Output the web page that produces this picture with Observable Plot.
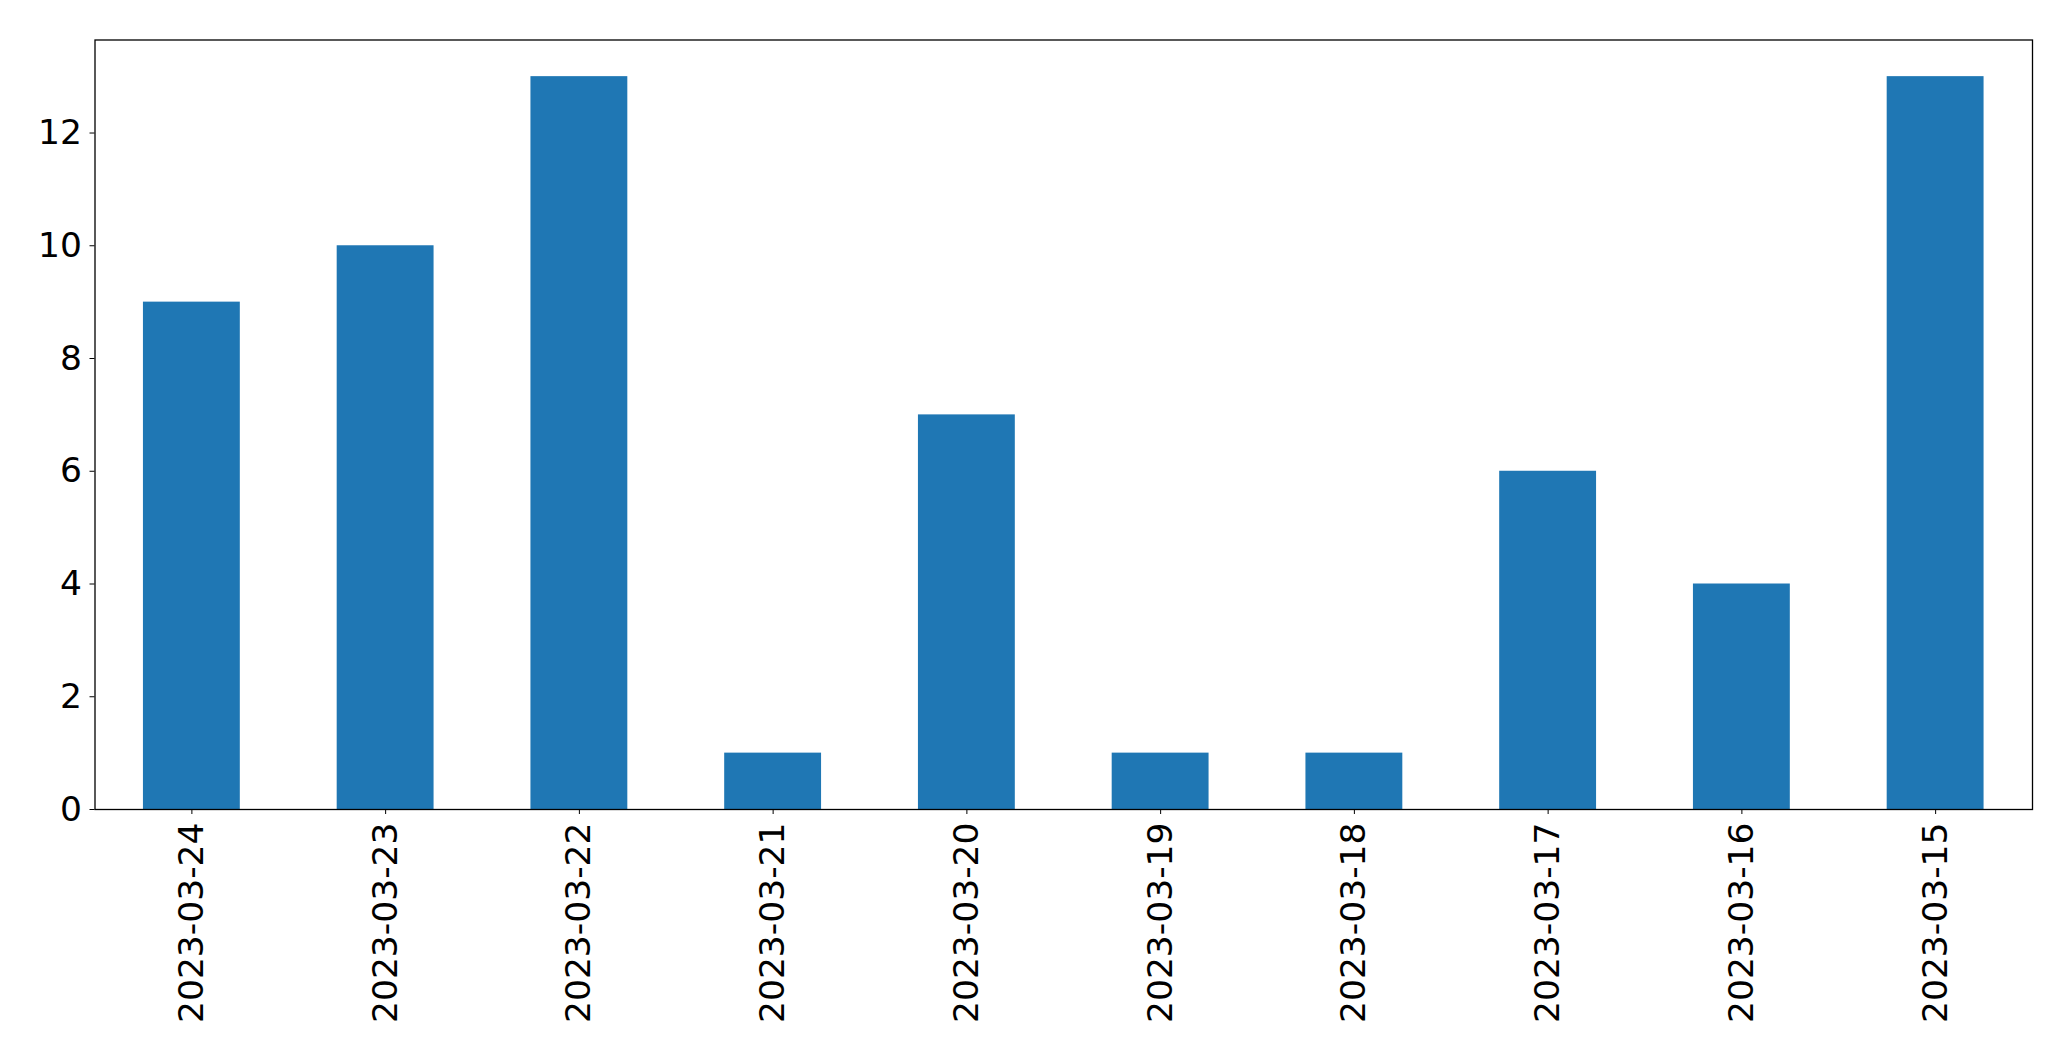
<!DOCTYPE html>
<html>
<head>
<meta charset="utf-8">
<script src="https://cdn.jsdelivr.net/npm/d3@7"></script>
<script src="https://cdn.jsdelivr.net/npm/@observablehq/plot@0.6"></script>
<style>
  html, body { margin: 0; padding: 0; background: #fff; }
  #chart svg { display: block; }
</style>
</head>
<body>
<div id="chart"></div>
<script>
const dates = ["2023-03-24","2023-03-23","2023-03-22","2023-03-21","2023-03-20","2023-03-19","2023-03-18","2023-03-17","2023-03-16","2023-03-15"];
const counts = [9, 10, 13, 1, 7, 1, 1, 6, 4, 13];
const yTicks = [0, 2, 4, 6, 8, 10, 12];

const data = dates.map((d, i) => ({date: d, count: counts[i]}));
const yMax = d3.max(counts) * 1.05;

const chart = Plot.plot({
  width: 2071,
  height: 1061,
  marginLeft: 94.5,
  marginRight: 39,
  marginTop: 39.5,
  marginBottom: 252,
  style: {fontFamily: "DejaVu Sans", fontSize: "34.5px", color: "#000", background: "#fff"},
  x: {type: "band", domain: dates, paddingInner: 0.5, paddingOuter: 0.25, align: 0.5, round: false, label: null},
  y: {domain: [0, yMax], label: null},
  marks: [
    Plot.barY(data, {x: "date", y: "count", fill: "#1f77b4", inset: 0}),
    Plot.axisY({ticks: yTicks, tickSize: 5, tickPadding: 8, tickFormat: d => String(d), label: null}),
    Plot.axisX({tickSize: 5, tickPadding: 8, tickRotate: -90, label: null}),
    Plot.frame({stroke: "#000", strokeWidth: 1.3})
  ]
});
document.getElementById("chart").appendChild(chart);
</script>
</body>
</html>
